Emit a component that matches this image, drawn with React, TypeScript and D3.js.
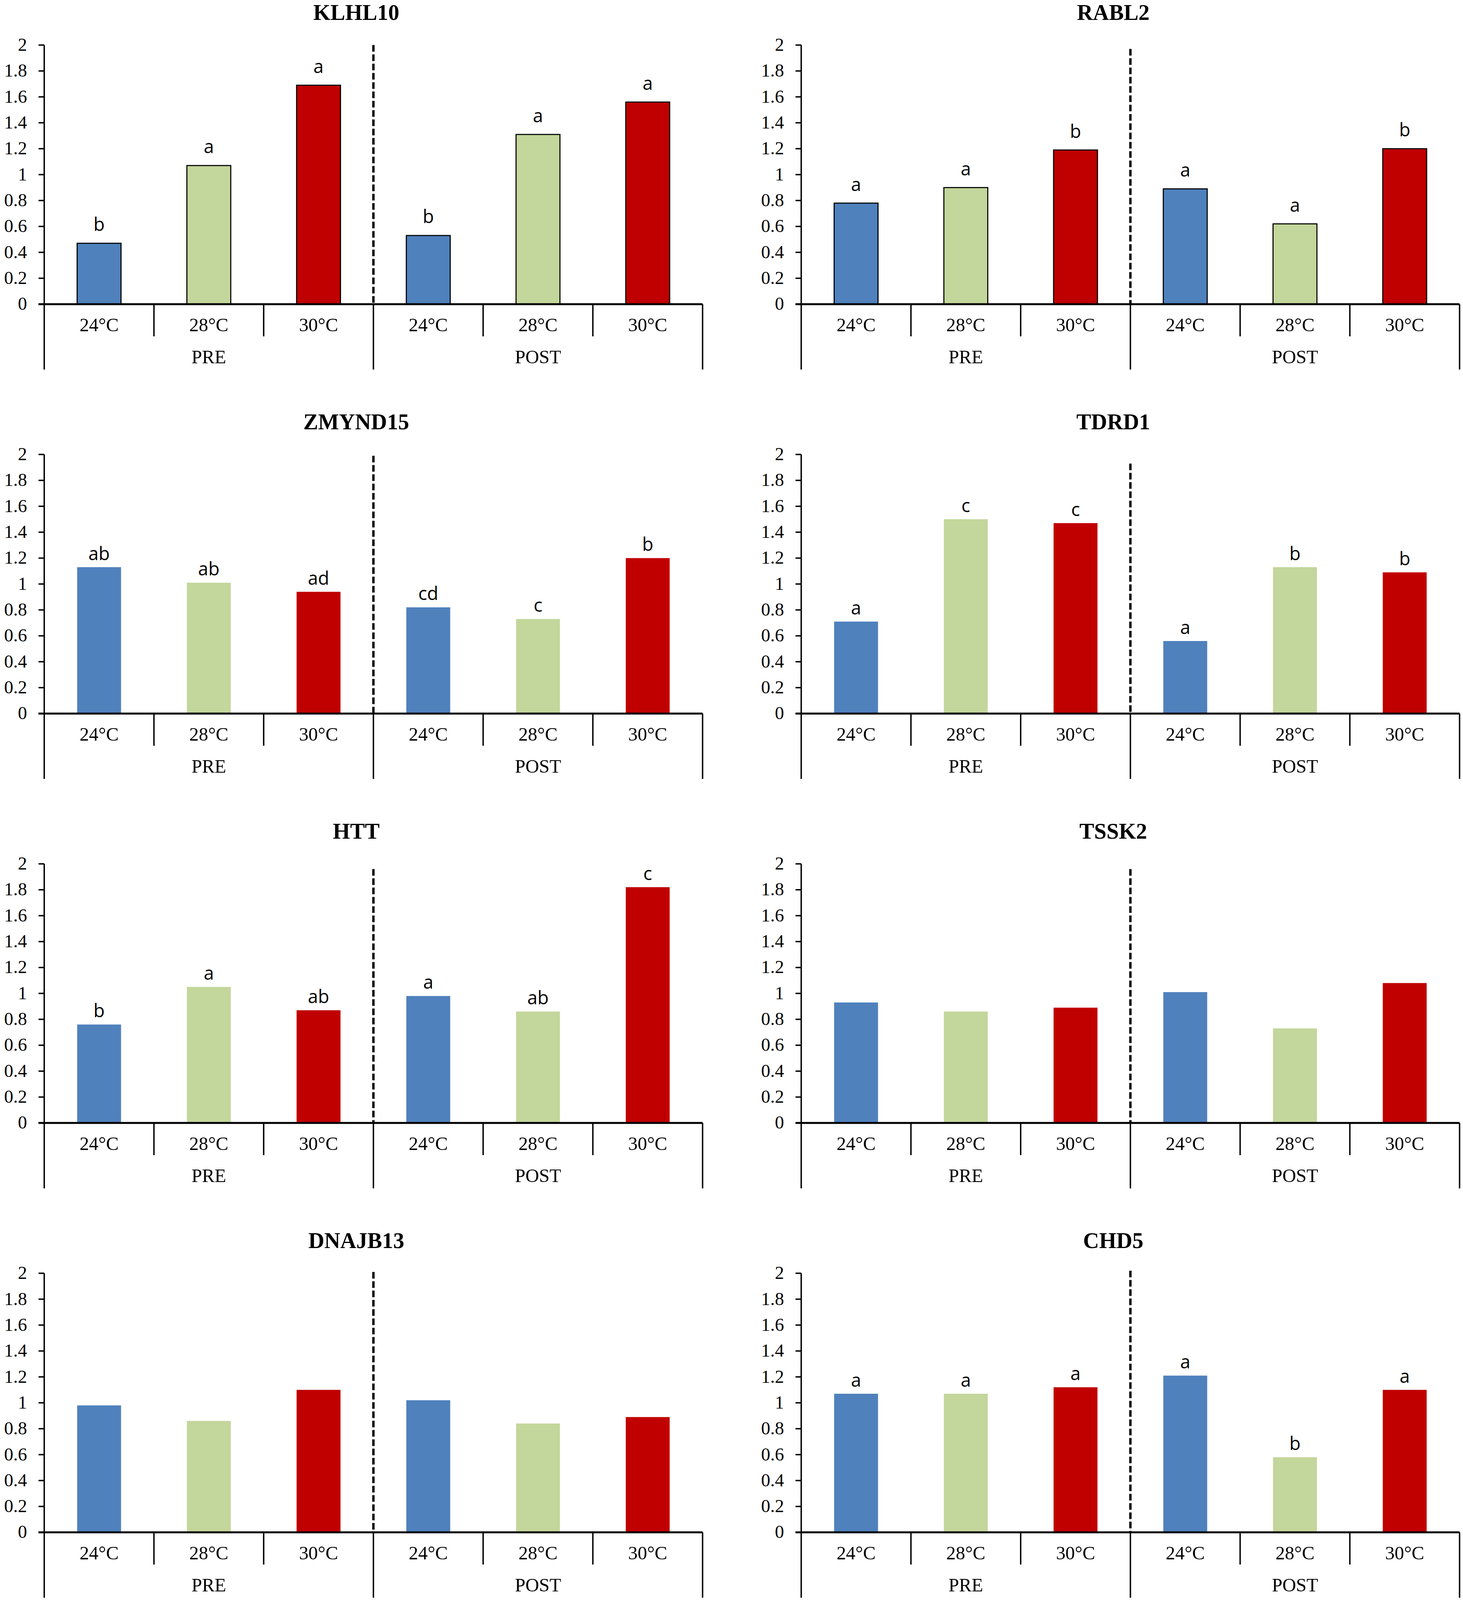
import * as d3 from 'd3';

// genes, in reading order (left to right, top to bottom)
const GENES = ['KLHL10', 'RABL2', 'ZMYND15', 'TDRD1', 'HTT', 'TSSK2', 'DNAJB13', 'CHD5'];
const PHASES = ['PRE', 'POST'];
const TEMPS = ['24°C', '28°C', '30°C'];

// relative expression, PRE 24/28/30 then POST 24/28/30
const KLHL10 = [0.47, 1.07, 1.69, 0.53, 1.31, 1.56];
const RABL2 = [0.78, 0.9, 1.19, 0.89, 0.62, 1.2];
const ZMYND15 = [1.13, 1.01, 0.94, 0.82, 0.73, 1.2];
const TDRD1 = [0.71, 1.5, 1.47, 0.56, 1.13, 1.09];
const HTT = [0.76, 1.05, 0.87, 0.98, 0.86, 1.82];
const TSSK2 = [0.93, 0.86, 0.89, 1.01, 0.73, 1.08];
const DNAJB13 = [0.98, 0.86, 1.1, 1.02, 0.84, 0.89];
const CHD5 = [1.07, 1.07, 1.12, 1.21, 0.58, 1.1];
const VALUES = [KLHL10, RABL2, ZMYND15, TDRD1, HTT, TSSK2, DNAJB13, CHD5];

// significance letters
const KLHL10_LETTERS = ['b', 'a', 'a', 'b', 'a', 'a'];
const RABL2_LETTERS = ['a', 'a', 'b', 'a', 'a', 'b'];
const ZMYND15_LETTERS = ['ab', 'ab', 'ad', 'cd', 'c', 'b'];
const TDRD1_LETTERS = ['a', 'c', 'c', 'a', 'b', 'b'];
const HTT_LETTERS = ['b', 'a', 'ab', 'a', 'ab', 'c'];
const TSSK2_LETTERS: string[] = [];
const DNAJB13_LETTERS: string[] = [];
const CHD5_LETTERS = ['a', 'a', 'a', 'a', 'b', 'a'];
const LETTERS = [
  KLHL10_LETTERS, RABL2_LETTERS, ZMYND15_LETTERS, TDRD1_LETTERS,
  HTT_LETTERS, TSSK2_LETTERS, DNAJB13_LETTERS, CHD5_LETTERS,
];

const Y_TICKS = [0, 0.2, 0.4, 0.6, 0.8, 1, 1.2, 1.4, 1.6, 1.8, 2];

// styling
const TEMP_COLORS = ['#4F81BD', '#C3D69B', '#C00000'];
const OUTLINED = ['KLHL10', 'RABL2'];
// where each hand drawn PRE/POST divider starts (in axis units)
const DIVIDER_TOP: Record<string, number> = {
  KLHL10: 2.0, RABL2: 1.97, ZMYND15: 1.99, TDRD1: 1.93,
  HTT: 1.96, TSSK2: 1.96, DNAJB13: 2.01, CHD5: 2.02,
};

const SERIF = '"Liberation Serif", "Times New Roman", serif';
const SANS = '"Open Sans", "Liberation Sans", sans-serif';

// layout is measured on a 1280 x 1566 grid and stretched to the page
const GRID_W = 1280;
const GRID_H = 1566;
const PLOT_W = 576;
const PLOT_H = 253.6;
const ROW_STEP = 400.7;
const COL_X = [38.7, 701];
const FIRST_TOP = 44.1;

const PAGE_W = 3745;
const PAGE_H = typeof window !== 'undefined' && window.innerHeight ? Math.min(window.innerHeight, 4582) : 4582;
const sx = PAGE_W / GRID_W;
const sy = PAGE_H / GRID_H;
const sf = Math.sqrt(sx * sy);

function Panel({ index }: { index: number }) {
  const gene = GENES[index];
  const values = VALUES[index];
  const letters = LETTERS[index];
  const col = index % 2;
  const row = Math.floor(index / 2);
  const x0 = COL_X[col] * sx;
  const x1 = (COL_X[col] + PLOT_W) * sx;
  const yTop = (FIRST_TOP + row * ROW_STEP) * sy;
  const y0 = yTop + PLOT_H * sy;

  const keys = PHASES.flatMap((p) => TEMPS.map((t) => `${p}|${t}`));
  const x = d3.scaleBand<string>().domain(keys).range([x0, x1]).paddingInner(0.6).paddingOuter(0.3);
  const step = x.step();
  const y = d3.scaleLinear().domain([0, 2]).range([y0, yTop]);

  const outlined = OUTLINED.includes(gene);
  const labelGap = (outlined ? 12 : 7) * sy;
  const divX = x0 + 3 * step;
  const axisW = 1.3 * sf;
  const tickLen = 5 * sx;

  return (
    <g>
      <text
        x={x0 + 273 * sx}
        y={yTop - 24.6 * sy}
        textAnchor="middle"
        fontFamily={SERIF}
        fontWeight="bold"
        fontSize={20.5 * sf}
        fill="#000"
      >
        {gene}
      </text>

      {/* y axis */}
      <line x1={x0} x2={x0} y1={yTop} y2={y0} stroke="#000" strokeWidth={axisW} />
      {Y_TICKS.map((t) => (
        <g key={t}>
          <line x1={x0 - tickLen} x2={x0} y1={y(t)} y2={y(t)} stroke="#000" strokeWidth={axisW} />
          <text
            x={x0 - 15 * sx}
            y={y(t) + 5.6 * sy}
            textAnchor="end"
            fontFamily={SERIF}
            fontSize={17 * sf}
            fill="#000"
          >
            {d3.format('~g')(t)}
          </text>
        </g>
      ))}

      {/* bars */}
      {values.map((v, i) => (
        <rect
          key={keys[i]}
          x={x(keys[i])}
          y={y(v)}
          width={x.bandwidth()}
          height={y0 - y(v)}
          fill={TEMP_COLORS[i % 3]}
          stroke={outlined ? '#000' : 'none'}
          strokeWidth={outlined ? 1 * sf : 0}
        />
      ))}

      {letters.map((l, i) => (
        <text
          key={`l${i}`}
          x={(x(keys[i]) ?? 0) + x.bandwidth() / 2}
          y={y(values[i]) - labelGap}
          textAnchor="middle"
          fontFamily={SANS}
          fontSize={17 * sf}
          fill="#000"
        >
          {l}
        </text>
      ))}

      {/* PRE / POST divider */}
      <line
        x1={divX}
        x2={divX}
        y1={y(DIVIDER_TOP[gene])}
        y2={y0}
        stroke="#000"
        strokeWidth={2.2 * sf}
        strokeDasharray={`${6.5 * sy} ${2.6 * sy}`}
      />

      {/* category axis */}
      <line x1={x0 - tickLen} x2={x1} y1={y0} y2={y0} stroke="#000" strokeWidth={1.8 * sf} />
      {d3.range(7).map((k) => (
        <line
          key={`s${k}`}
          x1={x0 + k * step}
          x2={x0 + k * step}
          y1={y0}
          y2={y0 + (k % 3 === 0 ? 64 : 31.5) * sy}
          stroke="#000"
          strokeWidth={axisW}
        />
      ))}
      {keys.map((k, i) => (
        <text
          key={`c${k}`}
          x={(x(k) ?? 0) + x.bandwidth() / 2}
          y={y0 + 26.6 * sy}
          textAnchor="middle"
          fontFamily={SERIF}
          fontSize={17.5 * sf}
          fill="#000"
        >
          {TEMPS[i % 3]}
        </text>
      ))}
      {PHASES.map((p, g) => (
        <text
          key={p}
          x={x0 + (g * 3 + 1.5) * step}
          y={y0 + 57.8 * sy}
          textAnchor="middle"
          fontFamily={SERIF}
          fontSize={17.5 * sf}
          fill="#000"
        >
          {p}
        </text>
      ))}
    </g>
  );
}

export default function App() {
  return (
    <svg
      width={PAGE_W}
      height={PAGE_H}
      style={{ position: 'absolute', left: 0, top: 0, background: '#fff', display: 'block' }}
    >
      <rect x={0} y={0} width={PAGE_W} height={PAGE_H} fill="#fff" />
      {GENES.map((g, i) => (
        <Panel key={g} index={i} />
      ))}
    </svg>
  );
}
